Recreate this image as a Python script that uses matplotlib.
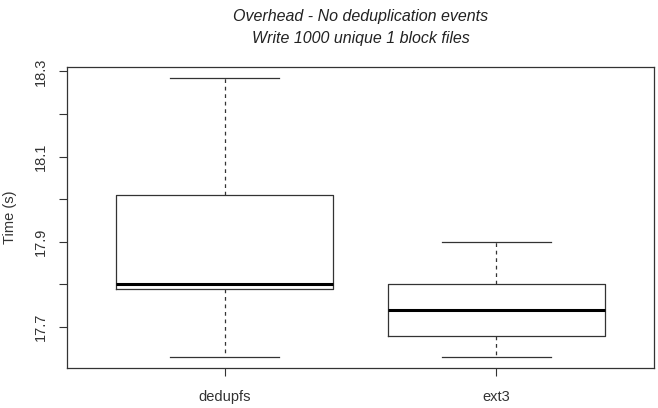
import matplotlib
matplotlib.use("Agg")
import matplotlib.pyplot as plt

categories = ["dedupfs", "ext3"]
whislo = [17.63, 17.63]
q1 = [17.79, 17.68]
med = [17.80, 17.74]
q3 = [18.01, 17.80]
whishi = [18.284, 17.90]
yticks = [17.7, 17.8, 17.9, 18.0, 18.1, 18.2, 18.3]
ytick_labels = ["17.7", "", "17.9", "", "18.1", "", "18.3"]
title = "Overhead - No deduplication events\nWrite 1000 unique 1 block files"

plt.rcParams['font.family'] = ['Liberation Sans', 'DejaVu Sans']

fig = plt.figure(figsize=(6.58, 4.08), dpi=100)
ax = fig.add_axes([67/658, 40/408, 587/658, 301/408])

stats = []
for i, c in enumerate(categories):
    stats.append(dict(label=c, whislo=whislo[i], q1=q1[i], med=med[i],
                      q3=q3[i], whishi=whishi[i], fliers=[]))

lc = '#333333'
ax.bxp(stats, positions=[1, 2], widths=0.8, showfliers=False,
       boxprops=dict(color=lc, linewidth=0.9),
       medianprops=dict(color='black', linewidth=2.2),
       whiskerprops=dict(color=lc, linewidth=0.9, linestyle=(0, (3, 3))),
       capprops=dict(color=lc, linewidth=0.9),
       capwidths=0.4)

lo, hi = min(whislo), max(whishi)
pad = (hi - lo) * 0.04
ax.set_ylim(lo - pad, hi + pad)
ax.set_xlim(0.5 - 0.08, 2.5 + 0.08)

ax.set_yticks(yticks)
ax.set_yticklabels(ytick_labels, rotation=90, va='center',
                   fontsize=10.5, color='#333333')
ax.set_xticks([1, 2])
ax.set_xticklabels(categories, fontsize=10.5, color='#333333')
ax.tick_params(axis='both', length=6, width=0.8, color=lc)
ax.tick_params(axis='y', pad=8)
ax.tick_params(axis='x', pad=10)

for s in ax.spines.values():
    s.set_color(lc)
    s.set_linewidth(0.9)

ax.set_ylabel("Time (s)", fontsize=10.5, color='#333333')
ax.yaxis.set_label_coords(-0.085, 0.5)
ax.set_title(title, fontsize=11.5, style='italic', color='#222222', pad=17,
             linespacing=1.6)

fig.savefig("out.png", dpi=100)
